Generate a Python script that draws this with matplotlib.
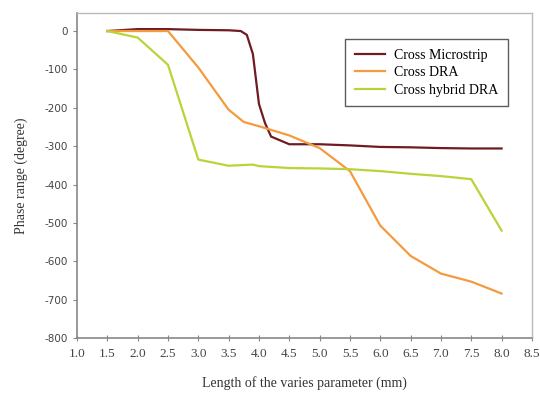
import matplotlib
matplotlib.use('Agg')
import matplotlib.pyplot as plt

# Cross Microstrip
x_ms = [1.5, 2.0, 2.5, 3.0, 3.5, 3.7, 3.8, 3.9, 4.0, 4.1, 4.2, 4.5, 5.0, 5.5, 6.0, 6.5, 7.0, 7.5, 8.0]
y_ms = [0, 5, 5, 3, 2, 0, -10, -60, -190, -240, -275, -295, -295, -298, -302, -303, -305, -306, -306]

# Cross DRA
x_dra = [1.5, 2.0, 2.5, 3.0, 3.5, 3.75, 4.0, 4.5, 5.0, 5.5, 6.0, 6.5, 7.0, 7.5, 8.0]
y_dra = [0, 0, 0, -95, -205, -237, -248, -272, -305, -365, -507, -586, -632, -653, -684]

# Cross hybrid DRA
x_hy = [1.5, 2.0, 2.5, 3.0, 3.5, 3.9, 4.0, 4.5, 5.0, 5.5, 6.0, 6.5, 7.0, 7.5, 8.0]
y_hy = [0, -17, -88, -335, -351, -348, -352, -357, -358, -360, -365, -372, -378, -386, -520]

xticks = [1.0, 1.5, 2.0, 2.5, 3.0, 3.5, 4.0, 4.5, 5.0, 5.5, 6.0, 6.5, 7.0, 7.5, 8.0, 8.5]
yticks = [0, -100, -200, -300, -400, -500, -600, -700, -800]

fig = plt.figure(figsize=(5.4, 3.94), dpi=100)
ax = fig.add_axes([0.1426, 0.142, 0.8424, 0.825])

ax.plot(x_ms, y_ms, color='#6e1c22', lw=1.6, label='Cross Microstrip')
ax.plot(x_dra, y_dra, color='#f59a3e', lw=1.6, label='Cross DRA')
ax.plot(x_hy, y_hy, color='#b8d43a', lw=1.6, label='Cross hybrid DRA')

ax.set_xlim(1.0, 8.5)
ax.set_ylim(-800, 47)
ax.set_xticks(xticks)
ax.set_xticklabels(['%.1f' % v for v in xticks], family='Liberation Serif', fontsize=9.5, color='#444444')
ax.set_yticks(yticks)
ax.set_yticklabels([str(v) for v in yticks], family='DejaVu Sans', fontsize=7.5, color='#444444')
ax.tick_params(axis='x', direction='inout', length=4, color='#888888', pad=5)
ax.tick_params(axis='y', direction='out', length=3, color='#888888')

for s in ['left', 'bottom']:
    ax.spines[s].set_color('#888888')
    ax.spines[s].set_linewidth(1.2)
for s in ['top', 'right']:
    ax.spines[s].set_color('#bbbbbb')
    ax.spines[s].set_linewidth(1.0)

ax.set_xlabel('Length of the varies parameter (mm)', family='Liberation Serif', fontsize=10, color='#333333', labelpad=12)
ax.set_ylabel('Phase range (degree)', family='Liberation Serif', fontsize=10, color='#333333', labelpad=12)

leg = ax.legend(loc='upper right', bbox_to_anchor=(0.962, 0.94), prop={'family': 'Liberation Serif', 'size': 10},
                frameon=True, fancybox=False, handlelength=2.2, handletextpad=0.6, borderpad=0.7, labelspacing=0.3)
leg.get_frame().set_edgecolor('#333333')
leg.get_frame().set_linewidth(1.0)

fig.savefig('out.png', dpi=100)
